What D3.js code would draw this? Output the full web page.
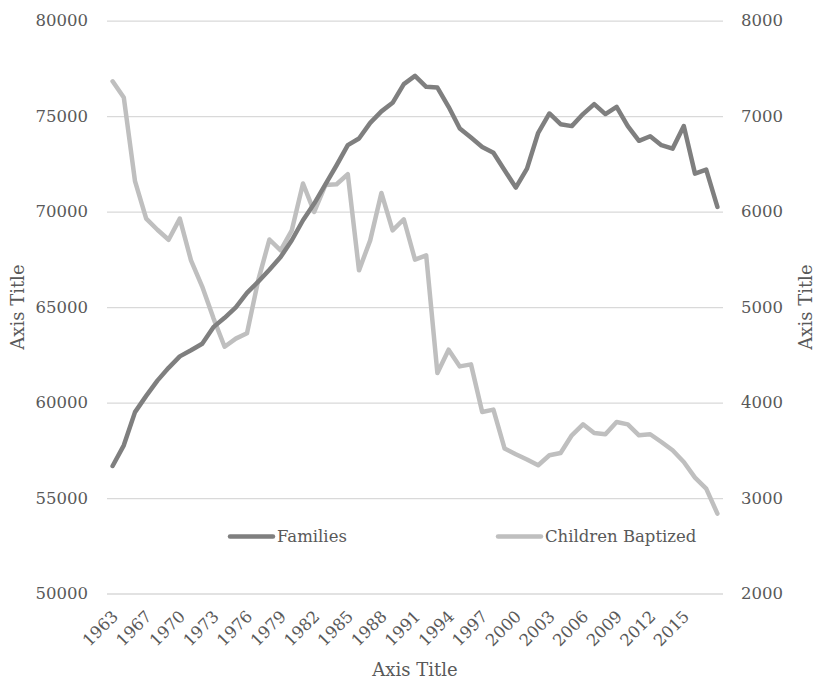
<!DOCTYPE html>
<html>
<head>
<meta charset="utf-8">
<script src="https://cdn.jsdelivr.net/npm/d3@7"></script>
<style>
  html, body { margin: 0; padding: 0; background: #ffffff; }
  svg { display: block; }
  text { font-family: "DejaVu Serif", serif; fill: #595959; }
</style>
</head>
<body>
<svg id="chart" width="815" height="682"></svg>
<script>
// Years on the category axis (1964 is absent from the series)
const years = [1963].concat(d3.range(1965, 2019));

// Number of families (left axis)
const families = [
  56680, 57760, 59500, 60350, 61150, 61820, 62420, 62740, 63080, 63950,
  64440, 64990, 65750, 66330, 66960, 67620, 68500, 69550, 70420, 71430,
  72430, 73480, 73830, 74650, 75250, 75700, 76680, 77110, 76540, 76500,
  75490, 74350, 73880, 73390, 73080, 72170, 71260, 72250, 74130, 75140,
  74580, 74480, 75110, 75630, 75110, 75490, 74480, 73710, 73950, 73480,
  73300, 74480, 71990, 72200, 70250
];

// Children baptized (right axis)
const baptized = [
  7365, 7195, 6320, 5927, 5810, 5705, 5927, 5490, 5215, 4885,
  4585, 4670, 4726, 5280, 5708, 5594, 5804, 6295, 5997, 6278,
  6287, 6392, 5385, 5699, 6196, 5804, 5920, 5497, 5542, 4309,
  4554, 4379, 4400, 3901, 3926, 3518, 3458, 3403, 3343, 3448,
  3472, 3657, 3772, 3682, 3668, 3797, 3772, 3657, 3668, 3587,
  3500, 3378, 3214, 3099, 2837
];

const leftTicks = [50000, 55000, 60000, 65000, 70000, 75000, 80000];
const rightTicks = [2000, 3000, 4000, 5000, 6000, 7000, 8000];
const yearLabels = [1963, 1967, 1970, 1973, 1976, 1979, 1982, 1985, 1988,
  1991, 1994, 1997, 2000, 2003, 2006, 2009, 2012, 2015];

const seriesNames = ["Families", "Children Baptized"];
const seriesColors = ["#7f7f7f", "#bfbfbf"];

const plot = { left: 107, right: 723, top: 20.7, bottom: 593.5 };

const svg = d3.select("#chart");

const x = d3.scalePoint().domain(years).range([plot.left, plot.right]).padding(0.5);
const yL = d3.scaleLinear().domain([50000, 80000]).range([plot.bottom, plot.top]);
const yR = d3.scaleLinear().domain([2000, 8000]).range([plot.bottom, plot.top]);

// Horizontal gridlines
svg.append("g")
  .attr("transform", `translate(${plot.left},0)`)
  .call(d3.axisLeft(yL).tickValues(leftTicks).tickSize(-(plot.right - plot.left)).tickFormat(""))
  .call(g => g.select(".domain").remove())
  .call(g => g.selectAll("line").attr("stroke", "#d9d9d9").attr("stroke-width", 1.3));

// Left value axis
svg.append("g")
  .attr("transform", `translate(${plot.left - 19},0)`)
  .call(d3.axisLeft(yL).tickValues(leftTicks).tickSize(0).tickPadding(0).tickFormat(d3.format("d")))
  .call(g => g.select(".domain").remove())
  .call(g => g.selectAll("text").style("font-size", "16.5px").style("font-family", "DejaVu Serif").attr("fill", "#595959"));

// Right value axis
svg.append("g")
  .attr("transform", `translate(${plot.right + 18},0)`)
  .call(d3.axisRight(yR).tickValues(rightTicks).tickSize(0).tickPadding(0).tickFormat(d3.format("d")))
  .call(g => g.select(".domain").remove())
  .call(g => g.selectAll("text").style("font-size", "16.5px").style("font-family", "DejaVu Serif").attr("fill", "#595959"));

// Category axis with slanted year labels
svg.append("g")
  .attr("transform", `translate(0,${plot.bottom})`)
  .call(d3.axisBottom(x).tickValues(yearLabels).tickSize(0).tickPadding(0))
  .call(g => g.select(".domain").remove())
  .call(g => g.selectAll("text")
    .style("font-size", "16.5px").style("font-family", "DejaVu Serif").attr("fill", "#595959")
    .attr("text-anchor", "end")
    .attr("y", 0).attr("dy", 0)
    .attr("transform", "translate(6,24) rotate(-45)"));

// Series lines
const line = scale => d3.line().x((d, i) => x(years[i])).y(d => scale(d));

svg.append("path")
  .datum(baptized)
  .attr("fill", "none")
  .attr("stroke", seriesColors[1])
  .attr("stroke-width", 4.5)
  .attr("stroke-linejoin", "round")
  .attr("stroke-linecap", "round")
  .attr("d", line(yR));

svg.append("path")
  .datum(families)
  .attr("fill", "none")
  .attr("stroke", seriesColors[0])
  .attr("stroke-width", 4.5)
  .attr("stroke-linejoin", "round")
  .attr("stroke-linecap", "round")
  .attr("d", line(yL));

// Legend
const legendY = 536.5;
const legendX = [230, 498];
seriesNames.forEach((name, i) => {
  const g = svg.append("g").attr("transform", `translate(${legendX[i]},${legendY})`);
  g.append("line")
    .attr("x1", 0).attr("x2", 43).attr("y1", 0).attr("y2", 0)
    .attr("stroke", seriesColors[i]).attr("stroke-width", 4.5).attr("stroke-linecap", "round");
  g.append("text")
    .attr("x", 47).attr("y", 0).attr("dy", "0.35em")
    .style("font-size", "16.5px")
    .text(name);
});

// Axis titles
svg.append("text")
  .attr("x", (plot.left + plot.right) / 2).attr("y", 676)
  .attr("text-anchor", "middle")
  .style("font-size", "18px")
  .text("Axis Title");

svg.append("text")
  .attr("transform", `translate(24,${(plot.top + plot.bottom) / 2}) rotate(-90)`)
  .attr("text-anchor", "middle")
  .style("font-size", "18px")
  .text("Axis Title");

svg.append("text")
  .attr("transform", `translate(812,${(plot.top + plot.bottom) / 2}) rotate(-90)`)
  .attr("text-anchor", "middle")
  .style("font-size", "18px")
  .text("Axis Title");
</script>
</body>
</html>
